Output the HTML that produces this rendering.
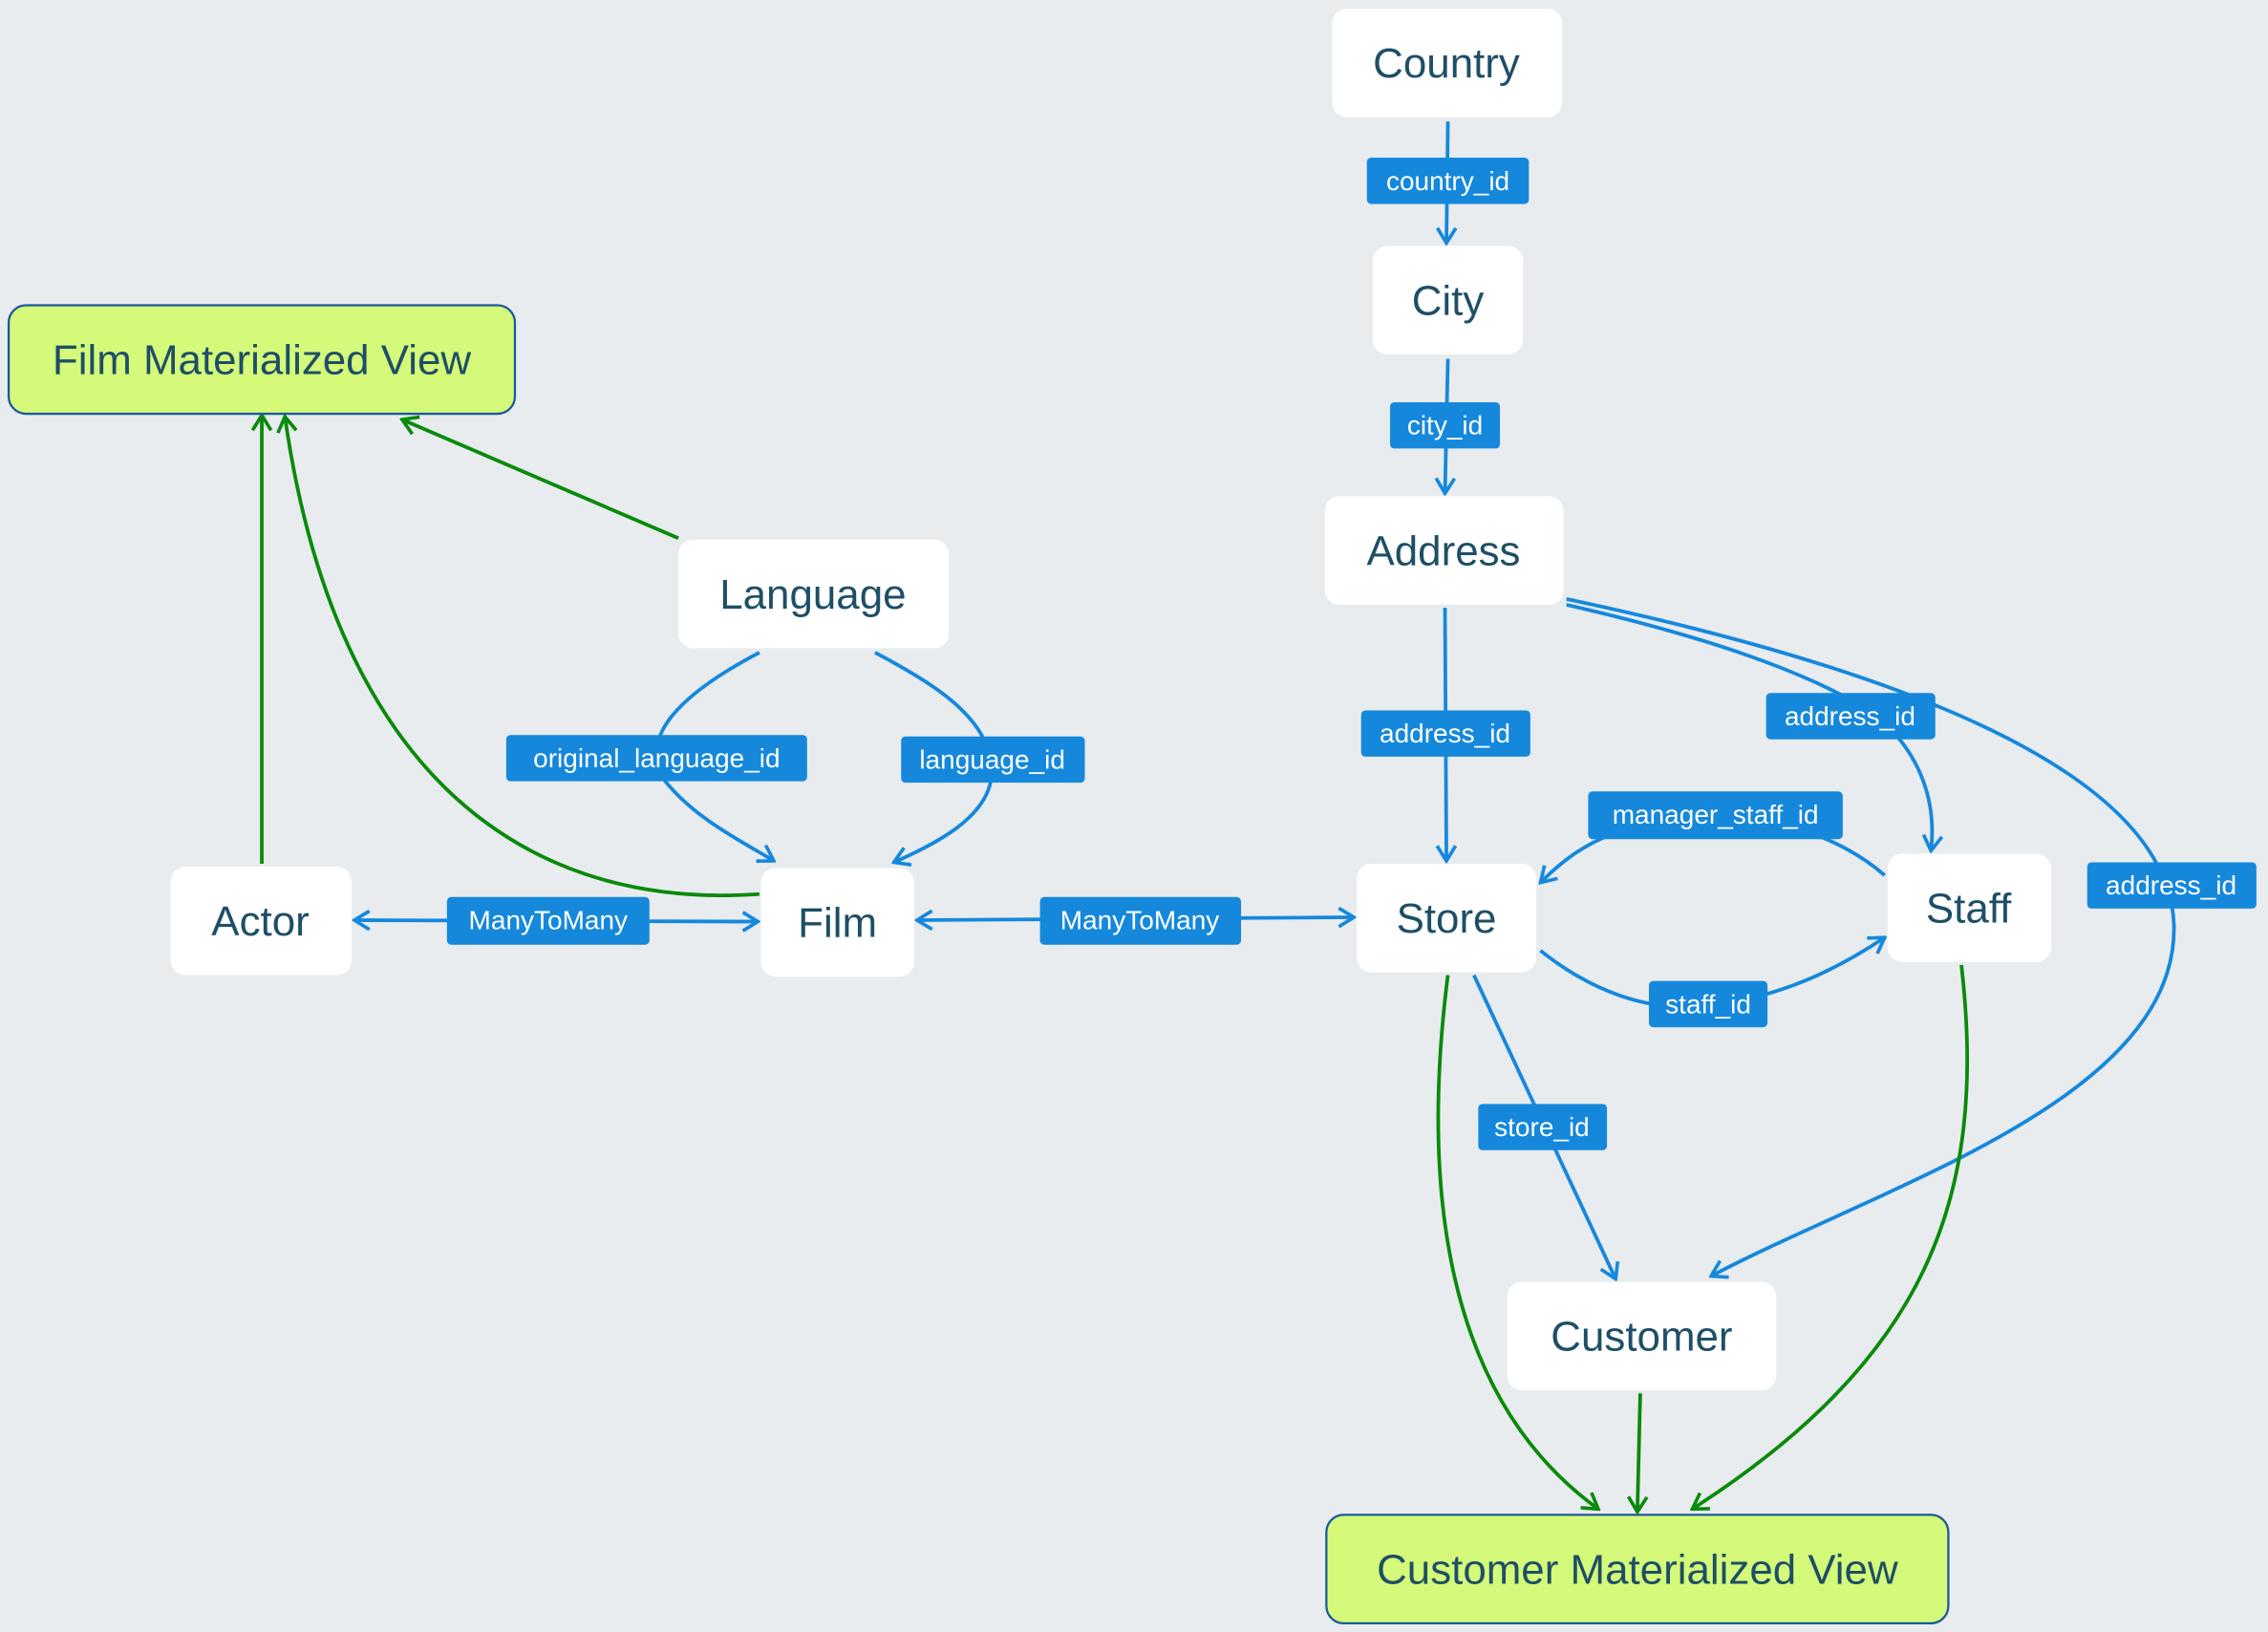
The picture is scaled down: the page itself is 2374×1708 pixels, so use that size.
<!DOCTYPE html>
<html><head><meta charset="utf-8"><style>
html,body{margin:0;padding:0;background:#e8ecef;}
svg{display:block}
.n{fill:#fff}
.t{font-family:"Liberation Sans",sans-serif;font-size:29px;fill:#1e4f66;text-anchor:middle;dominant-baseline:central}
.l{font-family:"Liberation Sans",sans-serif;font-size:18.5px;fill:#fff;text-anchor:middle;dominant-baseline:central}
.lb{fill:#1588dc}
.b{stroke:#1588dc;stroke-width:2.5;fill:none}
.g{stroke:#0a8a0a;stroke-width:2.5;fill:none}
</style></head><body>
<svg width="2374" height="1708" viewBox="0 0 1568 1128" preserveAspectRatio="none" xmlns="http://www.w3.org/2000/svg">
<defs>
<marker id="ab" viewBox="0 0 20 20" refX="18" refY="10" markerWidth="16" markerHeight="16" markerUnits="userSpaceOnUse" orient="auto-start-reverse"><path d="M5,2 L18,10 L5,18" fill="none" stroke="#1588dc" stroke-width="3"/></marker>
<marker id="ag" viewBox="0 0 20 20" refX="18" refY="10" markerWidth="16" markerHeight="16" markerUnits="userSpaceOnUse" orient="auto-start-reverse"><path d="M5,2 L18,10 L5,18" fill="none" stroke="#0a8a0a" stroke-width="3"/></marker>
</defs>
<rect width="1568" height="1128" fill="#e8ecef"/>
<g class="b">
<path d="M1001,84 L1000,168" marker-end="url(#ab)"/>
<path d="M1001,248 L999,341" marker-end="url(#ab)"/>
<path d="M999,420 L1000,595" marker-end="url(#ab)"/>
<path d="M1083,418 C1180,440 1250,465 1290,490 C1320,510 1340,545 1335,588" marker-end="url(#ab)"/>
<path d="M1083,414 C1300,460 1500,530 1503,640 C1505,760 1300,820 1183,882" marker-end="url(#ab)"/>
<path d="M1065,657 C1100,685 1140,700 1180,695 C1230,690 1270,670 1303,648" marker-end="url(#ab)"/>
<path d="M1303,605 C1280,585 1240,565 1190,565 C1120,565 1090,585 1065,610" marker-end="url(#ab)"/>
<path d="M1019,674 L1117,884" marker-end="url(#ab)"/>
<path d="M634,636 L936,634" marker-start="url(#ab)" marker-end="url(#ab)"/>
<path d="M245,636 L524,637" marker-start="url(#ab)" marker-end="url(#ab)"/>
<path d="M525,451 C470,480 440,510 460,540 C480,565 510,580 535,595" marker-end="url(#ab)"/>
<path d="M605,451 C650,475 690,500 685,540 C680,565 650,582 618,596" marker-end="url(#ab)"/>
</g>
<g class="g">
<path d="M469,372 L278,290" marker-end="url(#ag)"/>
<path d="M181,597 L181,287" marker-end="url(#ag)"/>
<path d="M525,618 C350,630 230,520 197,288" marker-end="url(#ag)"/>
<path d="M1001,674 C985,800 990,960 1105,1043" marker-end="url(#ag)"/>
<path d="M1134,963 L1132,1045" marker-end="url(#ag)"/>
<path d="M1356,667 C1375,830 1330,940 1170,1043" marker-end="url(#ag)"/>
</g>
<g>
<rect class="n" x="921" y="6" width="159" height="75" rx="10"/><text class="t" x="1000" y="44">Country</text>
<rect class="n" x="949" y="170" width="104" height="75" rx="10"/><text class="t" x="1001" y="208">City</text>
<rect class="n" x="916" y="343" width="165" height="75" rx="10"/><text class="t" x="998" y="381">Address</text>
<rect class="n" x="469" y="373" width="187" height="75" rx="10"/><text class="t" x="562" y="411">Language</text>
<rect x="6" y="211" width="350" height="75" rx="12" fill="#d5fa7a" stroke="#1a5a9a" stroke-width="1.5"/><text class="t" x="181" y="249">Film Materialized View</text>
<rect class="n" x="118" y="599" width="125" height="75" rx="10"/><text class="t" x="180" y="637">Actor</text>
<rect class="n" x="526" y="600" width="106" height="75" rx="10"/><text class="t" x="579" y="638">Film</text>
<rect class="n" x="938" y="597" width="124" height="75" rx="10"/><text class="t" x="1000" y="635">Store</text>
<rect class="n" x="1305" y="590" width="113" height="75" rx="10"/><text class="t" x="1361" y="628">Staff</text>
<rect class="n" x="1042" y="886" width="186" height="75" rx="10"/><text class="t" x="1135" y="924">Customer</text>
<rect x="917" y="1047" width="430" height="75" rx="12" fill="#d5fa7a" stroke="#1a5a9a" stroke-width="1.5"/><text class="t" x="1132" y="1085">Customer Materialized View</text>
</g>
<g>
<rect class="lb" x="945" y="109" width="112" height="32" rx="3"/><text class="l" x="1001" y="125">country_id</text>
<rect class="lb" x="961" y="278" width="76" height="32" rx="3"/><text class="l" x="999" y="294">city_id</text>
<rect class="lb" x="941" y="491" width="117" height="32" rx="3"/><text class="l" x="999" y="507">address_id</text>
<rect class="lb" x="1221" y="479" width="117" height="32" rx="3"/><text class="l" x="1279" y="495">address_id</text>
<rect class="lb" x="1443" y="596" width="117" height="32" rx="3"/><text class="l" x="1501" y="612">address_id</text>
<rect class="lb" x="1098" y="547" width="176" height="33" rx="3"/><text class="l" x="1186" y="563">manager_staff_id</text>
<rect class="lb" x="1140" y="678" width="82" height="32" rx="3"/><text class="l" x="1181" y="694">staff_id</text>
<rect class="lb" x="1022" y="763" width="89" height="32" rx="3"/><text class="l" x="1066" y="779">store_id</text>
<rect class="lb" x="719" y="620" width="139" height="33" rx="3"/><text class="l" x="788" y="636">ManyToMany</text>
<rect class="lb" x="309" y="620" width="140" height="33" rx="3"/><text class="l" x="379" y="636">ManyToMany</text>
<rect class="lb" x="350" y="508" width="208" height="32" rx="3"/><text class="l" x="454" y="524">original_language_id</text>
<rect class="lb" x="623" y="509" width="127" height="32" rx="3"/><text class="l" x="686" y="525">language_id</text>
</g>
</svg>
</body></html>
